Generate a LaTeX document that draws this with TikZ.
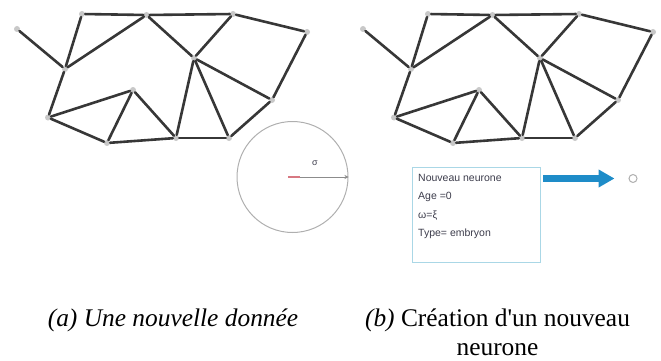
\documentclass[tikz,border=0pt]{standalone}
\usepackage{fontspec}
\setmainfont{Liberation Serif}
\newfontfamily\boxfont{Liberation Sans}
\usetikzlibrary{arrows.meta}
\definecolor{edgegray}{RGB}{55,55,55}
\definecolor{vtxgray}{RGB}{200,200,200}
\definecolor{circgray}{RGB}{175,175,175}
\definecolor{arrowblue}{RGB}{30,140,200}
\definecolor{boxblue}{RGB}{170,215,230}
\definecolor{boxtext}{RGB}{60,60,75}
\definecolor{centerred}{RGB}{215,120,130}
\tikzset{
  vtx/.style={circle, fill=vtxgray, inner sep=0pt, minimum size=6pt},
  edge/.style={draw=edgegray, line width=2.6pt, line cap=round},
  captxt/.style={font=\fontsize{25.4}{30}\selectfont, inner sep=0pt},
  boxtxt/.style={font=\boxfont\fontsize{10.5}{12}\selectfont, text=boxtext, inner sep=0pt},
  infobox/.style={draw=boxblue, line width=1pt, minimum width=128pt, minimum height=95pt, inner sep=0pt},
  bluearrow/.style={draw=arrowblue, line width=7pt, -{Triangle[length=16pt,width=17pt]}},
}
\newcommand\netgraph[1]{%
  \foreach \n/\x/\y in {A/17/29, B/82/14, C/146.5/15, D/233/14, E/307/32, F/65/69, G/194/58, H/133/90, I/48/117.5, J/107/143, K/176/138, L/229/138, M/272/100}
    \node[vtx] (\n#1) at (\x,\y) {};
  \foreach \u/\v in {A/F, B/C, C/D, D/E, B/F, C/F, C/G, D/G, E/M, F/I, I/H, I/J, H/J, H/K, J/K, K/L, G/K, G/L, G/M, L/M}
    \draw[edge] (\u#1) -- (\v#1);
}
\begin{document}
\begin{tikzpicture}[x=1pt, y=-1pt]
\useasboundingbox (0,0) rectangle (661,361);
% left network
\netgraph{l}
% right network
\begin{scope}[xshift=346pt]
\netgraph{r}
\end{scope}
% new data zone
\node[draw=circgray, line width=1pt, circle, minimum size=111pt, inner sep=0pt] (zone) at (292.5,177) {};
\draw[centerred, line width=2pt] ([xshift=-4.5pt]zone.center) -- ([xshift=7.5pt]zone.center);
\draw[circgray!80!black, line width=0.8pt, -{Stealth[length=4pt,width=4pt]}] ([xshift=7.5pt]zone.center) -- (zone.east);
\node[font=\boxfont\fontsize{9}{10}\selectfont, text=boxtext] (sig) at (315,163) {σ};
% info box
\node[infobox, anchor=north west] (info) at (412,167) {};
\node[boxtxt, anchor=base west] (t1) at (418,181.5) {Nouveau neurone};
\node[boxtxt, anchor=base west] (t2) at (418,199.5) {Age =0};
\node[boxtxt, anchor=base west] (t3) at (418,218) {ω=ξ};
\node[boxtxt, anchor=base west] (t4) at (418,236) {Type= embryon};
% new neuron
\node[circle, draw=circgray, line width=1pt, minimum size=8pt, inner sep=0pt] (new) at (633,178.5) {};
\coordinate (astart) at (543,178.5);
\draw[bluearrow, shorten >=14pt] (astart) -- (new);
% captions
\node[captxt, anchor=base] (capa) at (173,326) {\itshape (a) Une nouvelle donnée};
\node[captxt, anchor=base] (capb) at (497.5,326) {\textit{(b)} Création d\textquotesingle un nouveau};
\node[captxt, anchor=base] (capb2) at (497.5,355) {neurone};
\end{tikzpicture}
\end{document}
